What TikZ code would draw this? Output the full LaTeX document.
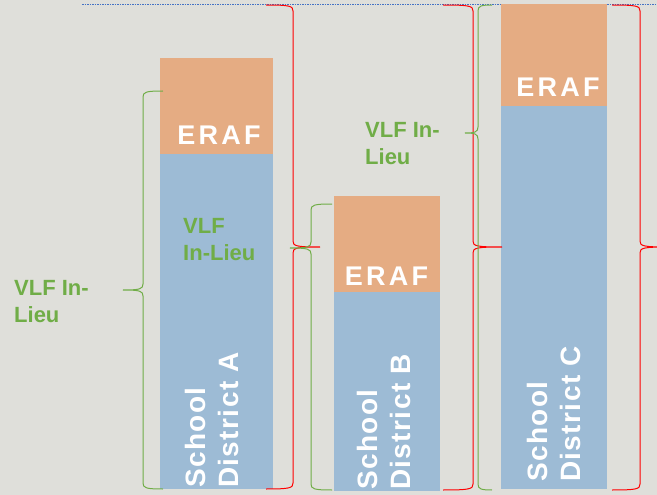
\documentclass[tikz,border=0pt]{standalone}
\usepackage{fontspec}
\setmainfont{Liberation Sans}
\newfontfamily\eraffont[LetterSpace=12]{Liberation Sans}
\newfontfamily\sdfont[LetterSpace=5]{Liberation Sans}
\definecolor{bgc}{HTML}{DFDFDA}
\definecolor{erafc}{HTML}{E5AC83}
\definecolor{vlfc}{HTML}{9DBBD5}
\definecolor{gtext}{HTML}{70AD47}
\definecolor{redb}{HTML}{FF0000}
\definecolor{topline}{HTML}{4472C4}
\tikzset{
  erafbox/.style={fill=erafc},
  vlfbox/.style={fill=vlfc},
  eraflabel/.style={text=white, inner sep=0pt, anchor=base,
    font={\eraffont\fontsize{27}{32}\selectfont\bfseries}},
  vlflabel/.style={text=gtext, inner sep=0pt, anchor=north west, align=left,
    font={\fontsize{22}{27}\selectfont\bfseries}},
  sdlabel/.style={text=white, inner sep=0pt, anchor=north west, align=left, rotate=90,
    font={\sdfont\fontsize{28}{33}\selectfont\bfseries}},
  redbrace/.style={draw=redb, line width=1pt},
  greenbrace/.style={draw=gtext, line width=1pt},
}
% #1 style, #2 dir (+1 tip right, -1 tip left), #3 x0, #4 xv, #5 xtip, #6 ytop, #7 ymid, #8 ybot
\newcommand\mybrace[8]{%
  \draw[#1] (#3,#6) .. controls ({#4-(#2)*3},#6) and (#4,{#6+1}) .. (#4,{#6+6})
    -- (#4,{#7-6}) .. controls (#4,{#7-1}) and ({#4+(#2)*3},#7) .. (#5,#7)
    .. controls ({#4+(#2)*3},#7) and (#4,{#7+1}) .. (#4,{#7+6})
    -- (#4,{#8-6}) .. controls (#4,{#8-1}) and ({#4-(#2)*3},#8) .. (#3,#8);}
\begin{document}
\begin{tikzpicture}[x=1pt,y=-1pt]
\fill[bgc] (0,0) rectangle (657,495);
\useasboundingbox (0,0) rectangle (657,495);
\draw[topline, line width=0.8pt, dash pattern=on 1.5pt off 1pt] (82,4.5) -- (657,4.5);
% bars
\fill[erafbox] (160,58) rectangle (273,154);
\fill[vlfbox] (160,154) rectangle (273,489);
\fill[erafbox] (334,196) rectangle (440,292);
\fill[vlfbox] (334,292) rectangle (440,491);
\fill[erafbox] (501,4) rectangle (607,106);
\fill[vlfbox] (501,106) rectangle (607,489);
% braces
\mybrace{greenbrace}{-1}{163}{143}{123}{91}{290}{489}
\mybrace{redbrace}{1}{266}{293}{320}{5}{247}{489}
\mybrace{greenbrace}{-1}{332}{311}{290}{204}{248}{490}
\mybrace{redbrace}{1}{443}{473}{502}{5}{247}{490}
\mybrace{greenbrace}{-1}{492}{478}{465}{5}{133}{490}
\mybrace{redbrace}{1}{612}{640}{668}{5}{247}{490}
% labels
\node[eraflabel] (erafA) at (219,145) {ERAF};
\node[eraflabel] (erafB) at (386.5,285) {ERAF};
\node[eraflabel] (erafC) at (558,97) {ERAF};
\node[vlflabel] (vlfinA) at (183,218) {VLF\\In-Lieu};
\node[vlflabel] (vlfA) at (14,280) {VLF In-\\Lieu};
\node[vlflabel] (vlfC) at (365,122) {VLF In-\\Lieu};
\node[sdlabel] (sdA) at (185,488) {School\\District A};
\node[sdlabel] (sdB) at (357,490) {School\\District B};
\node[sdlabel] (sdC) at (527,482) {School\\District C};
\end{tikzpicture}
\end{document}
